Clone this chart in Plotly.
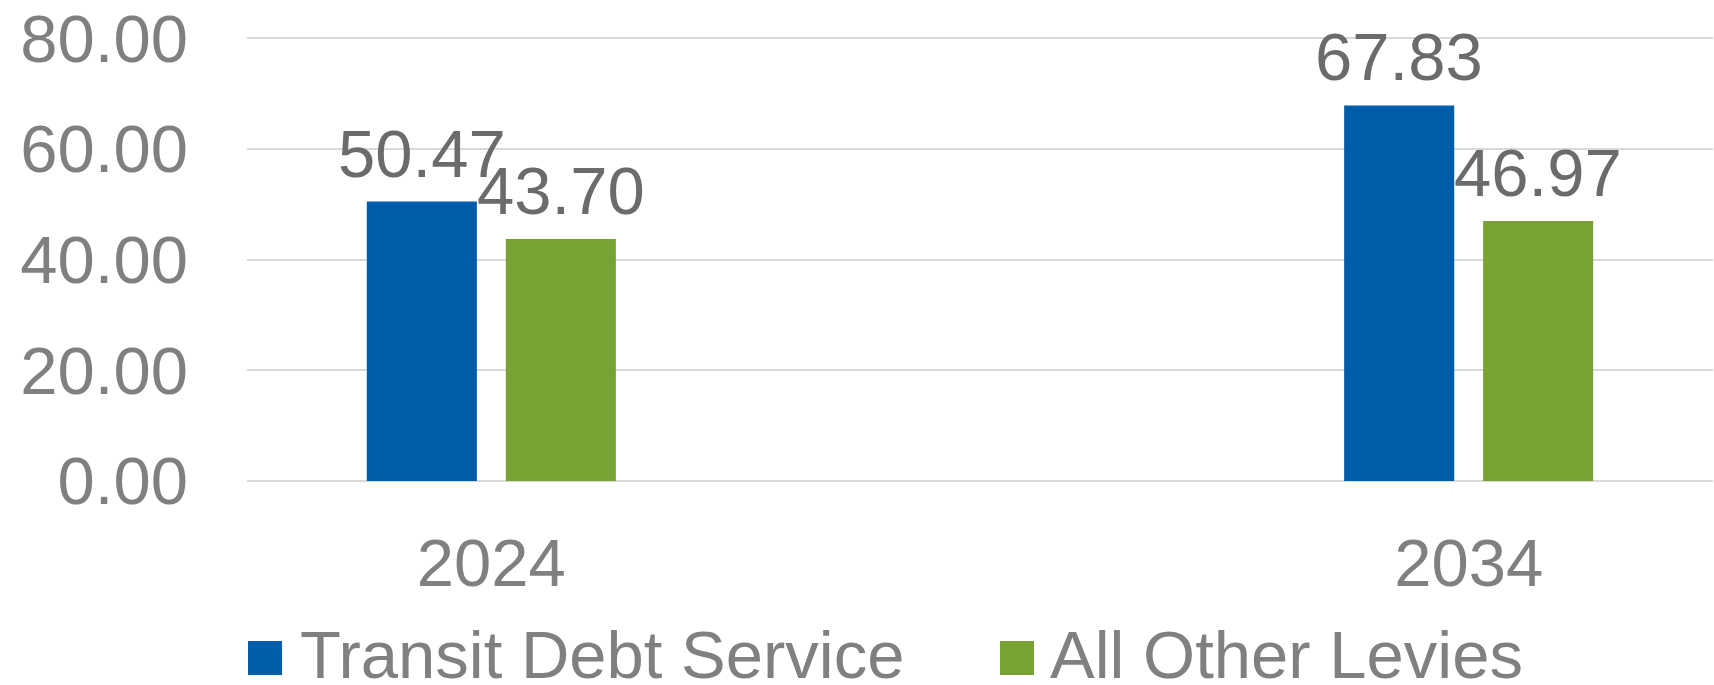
import plotly.graph_objects as go

categories = ["2024", "2034"]
series_names = ["Transit Debt Service", "All Other Levies"]
transit_debt = [50.47, 67.83]
other_levies = [43.70, 46.97]
y_tick_vals = [0, 20, 40, 60, 80]
y_tick_text = ["0.00", "20.00", "40.00", "60.00", "80.00"]

colors = ["#005DAA", "#78A233"]
axis_grey = "#808080"
label_grey = "#6B6B6B"
FONT = "Liberation Sans, Arial, sans-serif"
FS = 67

W, H = 1714, 685
ML, MR, MT, MB = 247, 1, 37, 203
PW, PH = W - ML - MR, H - MT - MB
Y_RANGE = [-0.2, 80.2]

BARGAP = 0.7156
BARGROUPGAP = 0.208

def px_x(px):
    return (px - ML) / PW

def px_y(py):
    return (H - MB - py) / PH

fig = go.Figure()
all_values = [transit_debt, other_levies]
for name, vals, col in zip(series_names, all_values, colors):
    fig.add_trace(go.Bar(
        x=categories, y=vals, name=name,
        marker=dict(color=col, line=dict(width=0)),
        showlegend=False,
    ))

# data labels positioned from the same grouping geometry
n = len(all_values)
slot = (1 - BARGAP) / n
annotations = []
for i, vals in enumerate(all_values):
    off = (i - (n - 1) / 2) * slot
    for j, v in enumerate(vals):
        annotations.append(dict(
            x=j + off, y=v, xref="x", yref="y",
            text=f"{v:.2f}", showarrow=False,
            xanchor="center", yanchor="bottom", yshift=9,
            font=dict(family=FONT, size=FS, color=label_grey),
        ))

# manual legend
shapes = []
leg_sq = [(248, 282), (1000, 1034)]
leg_tx = [300, 1050]
for (x0, x1), tx, name, col in zip(leg_sq, leg_tx, series_names, colors):
    shapes.append(dict(
        type="rect", xref="paper", yref="paper",
        x0=px_x(x0), x1=px_x(x1), y0=px_y(675), y1=px_y(641),
        fillcolor=col, line=dict(width=0),
    ))
    annotations.append(dict(
        x=px_x(tx - 2), y=px_y(654), xref="paper", yref="paper",
        text=name, showarrow=False, xanchor="left", yanchor="middle",
        font=dict(family=FONT, size=FS, color=axis_grey),
    ))

fig.update_layout(
    width=W, height=H,
    margin=dict(l=ML, r=MR, t=MT, b=MB, pad=0),
    paper_bgcolor="white", plot_bgcolor="white",
    barmode="group", bargap=BARGAP, bargroupgap=BARGROUPGAP,
    showlegend=False,
    annotations=annotations, shapes=shapes,
    font=dict(family=FONT, size=FS, color=axis_grey),
)
fig.update_xaxes(
    type="category", range=[-0.25, 1.25],
    showgrid=False, showline=False, zeroline=False,
    ticks="", ticklabelstandoff=36,
    tickfont=dict(family=FONT, size=FS, color=axis_grey),
)
fig.update_yaxes(
    range=Y_RANGE, tickvals=y_tick_vals, ticktext=y_tick_text,
    showgrid=True, gridcolor="#D9D9D9", gridwidth=2,
    zeroline=False, showline=False, ticks="",
    ticklabelstandoff=58,
    tickfont=dict(family=FONT, size=FS, color=axis_grey),
)
fig.update_traces(cliponaxis=False)

fig.write_html("out.html")
